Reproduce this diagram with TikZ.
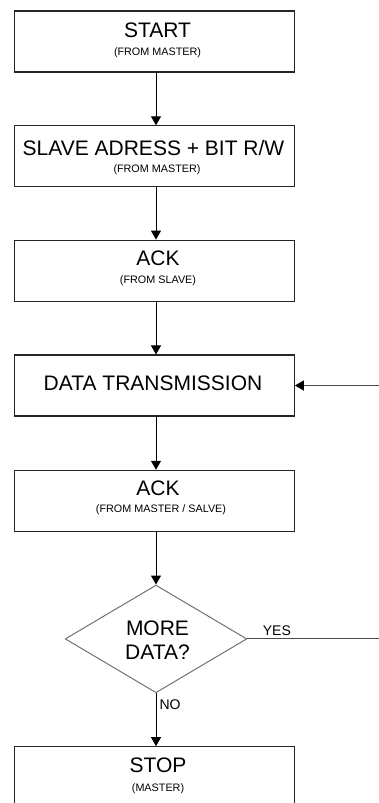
\documentclass[tikz,border=0pt]{standalone}
\usepackage{fontspec}
\setmainfont{Liberation Sans}
\usetikzlibrary{arrows.meta,shapes.geometric}
\begin{document}
\begin{tikzpicture}[x=1pt,y=-1pt,
  stepbox/.style={draw=black!85,line width=1.1pt,minimum width=280.3pt,
    minimum height=61pt,inner sep=0pt},
  decision/.style={diamond,draw=black!55,line width=1pt,minimum width=181.7pt,
    minimum height=107.7pt,inner sep=0pt},
  title/.style={anchor=base,inner sep=0pt,font=\fontsize{21}{24.3}\selectfont},
  subtitle/.style={anchor=base,inner sep=0pt,font=\fontsize{10.8}{12}\selectfont},
  tag/.style={anchor=base west,inner sep=0pt,font=\fontsize{14}{16}\selectfont},
  flow/.style={line width=0.95pt,draw=black,
    -{Triangle[width=10pt,length=9pt,color=black]}},
  loopline/.style={line width=1.1pt,draw=black!70,
    -{Triangle[width=10pt,length=9pt,color=black]}}]
\useasboundingbox (0,0) rectangle (379,803);
\clip (0,0) rectangle (379,803);
\fill[white] (0,0) rectangle (379,803);

% column of the vertical connectors and the return path on the right
\coordinate (ax) at (156,0);
\coordinate (back) at (400,0);

% process boxes
\node[stepbox] (start) at (154.2,41.5) {};
\node[title] (startT) at (157.5,37.7) {START};
\node[subtitle] (startS) at (157.5,55) {(FROM MASTER)};

\node[stepbox] (addr) at (154.2,156.35) {};
\node[title] (addrT) at (153.5,155) {SLAVE ADRESS + BIT R/W};
\node[subtitle] (addrS) at (157,172.7) {(FROM MASTER)};

\node[stepbox] (ack) at (154.2,270.65) {};
\node[title] (ackT) at (158,265) {ACK};
\node[subtitle] (ackS) at (158,283.3) {(FROM SLAVE)};

\node[stepbox] (data) at (154.2,385.5) {};
\node[title] (dataT) at (153,390.7) {DATA TRANSMISSION};

\node[stepbox] (ackb) at (154.2,500.85) {};
\node[title] (ackbT) at (158,495) {ACK};
\node[subtitle] (ackbS) at (161,512.3) {(FROM MASTER / SALVE)};

% decision
\node[decision] (more) at (156,638.9) {};
\node[title] (moreA) at (157.5,635) {MORE};
\node[title] (moreB) at (157.5,659.3) {DATA?};

\node[stepbox] (stop) at (154.2,777.2) {};
\node[title] (stopT) at (158,772.3) {STOP};
\node[subtitle] (stopS) at (158,791.7) {(MASTER)};

% connectors
\draw[flow] (start.south -| ax) -- (addr.north -| ax);
\draw[flow] (addr.south -| ax) -- (ack.north -| ax);
\draw[flow] (ack.south -| ax) -- (data.north -| ax);
\draw[flow] (data.south -| ax) -- (ackb.north -| ax);
\draw[flow] (ackb.south -| ax) -- (more.north);
\draw[flow] (more.south) -- (stop.north -| more.south);
\draw[loopline] (more.east) -- (back |- more.east) |- (data.east);

% branch labels
\node[tag] (yes) at (262.7,635.7) {YES};
\node[tag] (no) at (159.3,709.3) {NO};
\end{tikzpicture}
\end{document}
